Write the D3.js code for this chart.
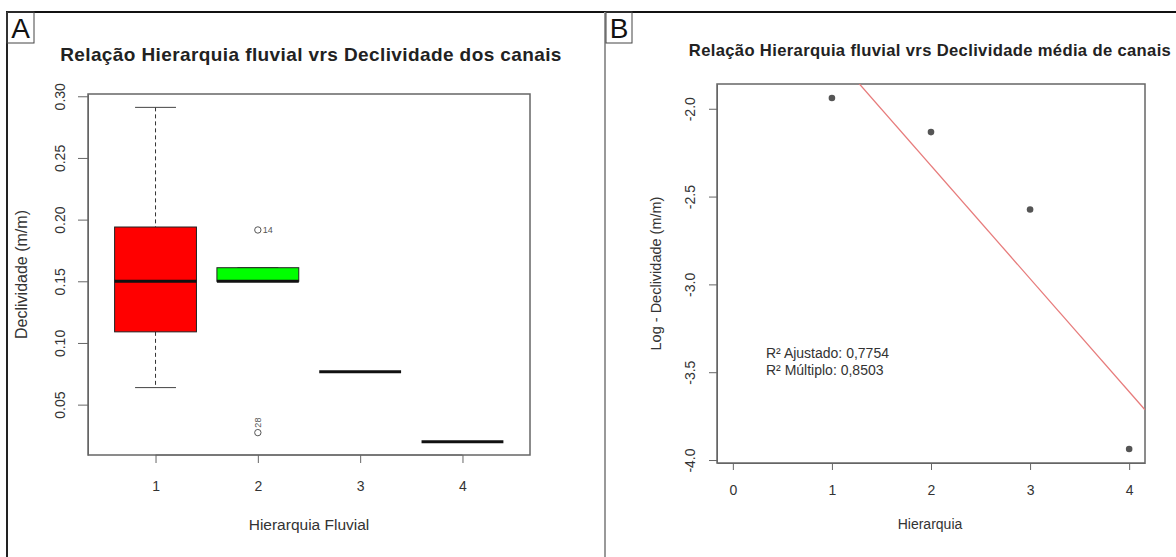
<!DOCTYPE html>
<html>
<head>
<meta charset="utf-8">
<script src="https://cdn.jsdelivr.net/npm/d3@7"></script>
<style>
  body { margin: 0; background: #fff; }
  svg { font-family: "Liberation Sans", Arial, sans-serif; display: block; }
</style>
</head>
<body>
<div id="chart"></div>
<script>
// Panel A - boxplot data
const hierarquiaGroups = ["1", "2", "3", "4"];
const whiskerLow  = [0.0638, 0.150, 0.0767, 0.020];
const boxQ1       = [0.109, 0.150, 0.0767, 0.020];
const boxMedian   = [0.150, 0.150, 0.0767, 0.020];
const boxQ3       = [0.194, 0.161, 0.0767, 0.020];
const whiskerHigh = [0.291, 0.161, 0.0767, 0.020];
const outlierGroup = [2, 2];
const outlierValue = [0.1916, 0.0273];
const outlierLabel = ["14", "28"];
const yTicksA = [0.05, 0.10, 0.15, 0.20, 0.25, 0.30];

// Panel B - scatter + lm fit
const hierarquia = [1, 2, 3, 4];
const logDeclividade = [-1.939, -2.133, -2.574, -3.937];
const xTicksB = [0, 1, 2, 3, 4];
const yTicksB = [-2.0, -2.5, -3.0, -3.5, -4.0];
const r2Labels = ["R² Ajustado: 0,7754", "R² Múltiplo: 0,8503"];

const boxFill = ["#ff0000", "#00ff00", "#ffffff", "#ffffff"];
const textCol = "#333";
const axisCol = "#666";

const width = 1176, height = 557;
const svg = d3.select("#chart").append("svg")
    .attr("width", width)
    .attr("height", height);

// outer frame
svg.append("line").attr("x1", 6).attr("x2", width).attr("y1", 12).attr("y2", 12)
    .attr("stroke", "#111").attr("stroke-width", 2);
svg.append("line").attr("x1", 7).attr("x2", 7).attr("y1", 12).attr("y2", height)
    .attr("stroke", "#222").attr("stroke-width", 2);
svg.append("line").attr("x1", 605).attr("x2", 605).attr("y1", 12).attr("y2", height)
    .attr("stroke", "#999").attr("stroke-width", 2);

// panel letters
function panelLetter(x, w, letter) {
    svg.append("rect").attr("x", x).attr("y", 12).attr("width", w).attr("height", 31)
        .attr("fill", "none").attr("stroke", "#444").attr("stroke-width", 1);
    svg.append("text").attr("x", x + w / 2).attr("y", 38)
        .attr("text-anchor", "middle").attr("font-size", "28px").attr("fill", "#111")
        .text(letter);
}
panelLetter(7, 27, "A");
panelLetter(606, 26, "B");

// R style 4% padded extent
function rRange(lo, hi) {
    const pad = (hi - lo) * 0.04;
    return [lo - pad, hi + pad];
}

// rotate y tick labels the R way (las = 0)
function rotateYLabels(g, offset) {
    g.selectAll(".tick text")
        .attr("transform", "rotate(-90)")
        .attr("x", 0)
        .attr("y", -offset)
        .attr("dy", "0.35em")
        .attr("text-anchor", "middle");
}

function styleAxis(g, size) {
    g.selectAll("path, line").attr("stroke", axisCol);
    g.selectAll("text").attr("fill", textCol).attr("font-size", size)
        .attr("font-family", "Liberation Sans, Arial, sans-serif");
}

// ---------------- Panel A ----------------
const boxA = { left: 88, right: 530, top: 94, bottom: 455 };
const allA = whiskerLow.concat(whiskerHigh, outlierValue);
const yA = d3.scaleLinear().domain(rRange(d3.min(allA), d3.max(allA))).range([boxA.bottom, boxA.top]);
const xA = d3.scaleLinear().domain(rRange(0.5, hierarquiaGroups.length + 0.5)).range([boxA.left, boxA.right]);

const gA = svg.append("g");

gA.append("text").attr("x", 311).attr("y", 61).attr("text-anchor", "middle")
    .attr("font-size", "19px").attr("font-weight", "bold").attr("fill", "#222")
    .attr("letter-spacing", "0.4px")
    .text("Relação Hierarquia fluvial vrs Declividade dos canais");

const yAxisA = gA.append("g").attr("transform", `translate(${boxA.left},0)`)
    .call(d3.axisLeft(yA).tickValues(yTicksA).tickFormat(d3.format(".2f")).tickSize(10).tickSizeOuter(0));
styleAxis(yAxisA, "14px");
rotateYLabels(yAxisA, 28);

const xAxisA = gA.append("g").attr("transform", `translate(0,${boxA.bottom})`)
    .call(d3.axisBottom(xA).tickValues(hierarquiaGroups.map((d, i) => i + 1))
        .tickFormat((d, i) => hierarquiaGroups[i]).tickSize(8).tickSizeOuter(0).tickPadding(18));
styleAxis(xAxisA, "14px");
xAxisA.select(".domain").attr("d", `M${xA(1)},0H${xA(4)}`);

gA.append("rect").attr("x", boxA.left).attr("y", boxA.top)
    .attr("width", boxA.right - boxA.left).attr("height", boxA.bottom - boxA.top)
    .attr("fill", "none").attr("stroke", axisCol).attr("stroke-width", 1.5);

const boxW = (xA(1.4) - xA(0.6));
const boxes = gA.selectAll(".box").data(hierarquiaGroups).join("g").attr("class", "box");

boxes.append("line")
    .attr("x1", (d, i) => xA(i + 1)).attr("x2", (d, i) => xA(i + 1))
    .attr("y1", (d, i) => yA(whiskerHigh[i])).attr("y2", (d, i) => yA(boxQ3[i]))
    .attr("stroke", "#333").attr("stroke-dasharray", "4,3");
boxes.append("line")
    .attr("x1", (d, i) => xA(i + 1)).attr("x2", (d, i) => xA(i + 1))
    .attr("y1", (d, i) => yA(boxQ1[i])).attr("y2", (d, i) => yA(whiskerLow[i]))
    .attr("stroke", "#333").attr("stroke-dasharray", "4,3");
boxes.each(function(d, i) {
    const g = d3.select(this);
    [whiskerLow[i], whiskerHigh[i]].forEach(v => {
        g.append("line")
            .attr("x1", xA(i + 1) - boxW / 4).attr("x2", xA(i + 1) + boxW / 4)
            .attr("y1", yA(v)).attr("y2", yA(v))
            .attr("stroke", "#444").attr("stroke-width", 1);
    });
});
boxes.append("rect")
    .attr("x", (d, i) => xA(i + 1) - boxW / 2)
    .attr("y", (d, i) => yA(boxQ3[i]))
    .attr("width", boxW)
    .attr("height", (d, i) => yA(boxQ1[i]) - yA(boxQ3[i]))
    .attr("fill", (d, i) => boxFill[i])
    .attr("stroke", "#222").attr("stroke-width", 1);
boxes.append("line")
    .attr("x1", (d, i) => xA(i + 1) - boxW / 2).attr("x2", (d, i) => xA(i + 1) + boxW / 2)
    .attr("y1", (d, i) => yA(boxMedian[i])).attr("y2", (d, i) => yA(boxMedian[i]))
    .attr("stroke", "#111").attr("stroke-width", 3);

// outliers
gA.selectAll(".out").data(outlierValue).join("circle").attr("class", "out")
    .attr("cx", (d, i) => xA(outlierGroup[i])).attr("cy", d => yA(d)).attr("r", 3.2)
    .attr("fill", "none").attr("stroke", "#555").attr("stroke-width", 1);
gA.selectAll(".outlab").data(outlierValue).join("text").attr("class", "outlab")
    .attr("font-size", "9px").attr("fill", "#555")
    .attr("transform", (d, i) => i === 0
        ? `translate(${xA(outlierGroup[i]) + 5},${yA(d) + 3})`
        : `translate(${xA(outlierGroup[i]) + 3},${yA(d) - 10}) rotate(-90)`)
    .attr("text-anchor", (d, i) => i === 0 ? "start" : "middle")
    .text((d, i) => outlierLabel[i]);

gA.append("text").attr("x", 309).attr("y", 530).attr("text-anchor", "middle")
    .attr("font-size", "15.5px").attr("fill", textCol).text("Hierarquia Fluvial");
gA.append("text").attr("transform", `translate(27,${(boxA.top + boxA.bottom) / 2}) rotate(-90)`)
    .attr("text-anchor", "middle").attr("font-size", "16px").attr("fill", textCol)
    .text("Declividade (m/m)");

// ---------------- Panel B ----------------
const boxB = { left: 717, right: 1145, top: 84, bottom: 463 };
const xB = d3.scaleLinear().domain(rRange(0, 4)).range([boxB.left, boxB.right]);
const yB = d3.scaleLinear().domain(rRange(d3.min(logDeclividade), d3.max(logDeclividade)))
    .range([boxB.bottom, boxB.top]);

const gB = svg.append("g");

gB.append("text").attr("x", 930).attr("y", 56).attr("text-anchor", "middle")
    .attr("font-size", "16.6px").attr("font-weight", "bold").attr("fill", "#222")
    .attr("letter-spacing", "0.35px")
    .text("Relação Hierarquia fluvial vrs Declividade média de canais");

const yAxisB = gB.append("g").attr("transform", `translate(${boxB.left},0)`)
    .call(d3.axisLeft(yB).tickValues(yTicksB).tickFormat(d => d.toFixed(1)).tickSize(8).tickSizeOuter(0));
styleAxis(yAxisB, "14px");
rotateYLabels(yAxisB, 27);

const xAxisB = gB.append("g").attr("transform", `translate(0,${boxB.bottom})`)
    .call(d3.axisBottom(xB).tickValues(xTicksB).tickFormat(d3.format("d")).tickSize(7).tickSizeOuter(0).tickPadding(15));
styleAxis(xAxisB, "14px");

gB.append("rect").attr("x", boxB.left).attr("y", boxB.top)
    .attr("width", boxB.right - boxB.left).attr("height", boxB.bottom - boxB.top)
    .attr("fill", "none").attr("stroke", axisCol).attr("stroke-width", 1.5);

// least squares fit, like abline(lm(y ~ x))
const mx = d3.mean(hierarquia), my = d3.mean(logDeclividade);
const slope = d3.sum(hierarquia, (x, i) => (x - mx) * (logDeclividade[i] - my)) /
    d3.sum(hierarquia, x => (x - mx) * (x - mx));
const intercept = my - slope * mx;

gB.append("clipPath").attr("id", "clipB").append("rect")
    .attr("x", boxB.left).attr("y", boxB.top)
    .attr("width", boxB.right - boxB.left).attr("height", boxB.bottom - boxB.top);
const xd = xB.domain();
gB.append("line").attr("clip-path", "url(#clipB)")
    .attr("x1", xB(xd[0])).attr("y1", yB(intercept + slope * xd[0]))
    .attr("x2", xB(xd[1])).attr("y2", yB(intercept + slope * xd[1]))
    .attr("stroke", "#e77b7b").attr("stroke-width", 1.3);

gB.selectAll(".pt").data(hierarquia).join("circle").attr("class", "pt")
    .attr("cx", d => xB(d)).attr("cy", (d, i) => yB(logDeclividade[i]))
    .attr("r", 3.3).attr("fill", "#555");

gB.selectAll(".r2").data(r2Labels).join("text").attr("class", "r2")
    .attr("x", 766).attr("y", (d, i) => 358 + i * 17)
    .attr("font-size", "14px").attr("fill", textCol)
    .text(d => d);

gB.append("text").attr("x", 930).attr("y", 529).attr("text-anchor", "middle")
    .attr("font-size", "14px").attr("fill", textCol).text("Hierarquia");
gB.append("text").attr("transform", `translate(661,${(boxB.top + boxB.bottom) / 2}) rotate(-90)`)
    .attr("text-anchor", "middle").attr("font-size", "14.5px").attr("fill", textCol)
    .text("Log - Declividade (m/m)");
</script>
</body>
</html>
